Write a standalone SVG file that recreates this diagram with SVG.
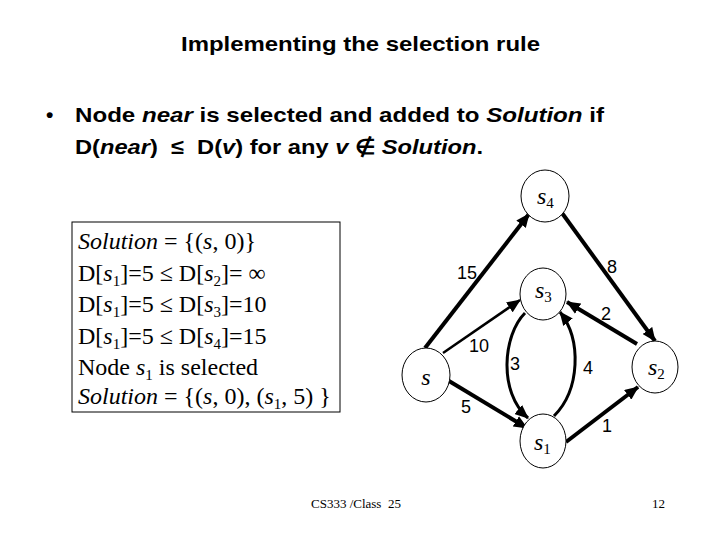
<svg xmlns="http://www.w3.org/2000/svg" width="720" height="540" viewBox="0 0 720 540">
<defs>
<style>
.h{font-family:"Liberation Sans",Arial,sans-serif;font-weight:bold;fill:#000}
.t{font-family:"Liberation Serif","Times New Roman",serif;fill:#000}
.lbl{font-family:"Liberation Sans",Arial,sans-serif;font-size:18px;fill:#000}
.nl{font-family:"Liberation Serif","Times New Roman",serif;font-style:italic;font-size:24px;fill:#000}
.node{fill:#fff;stroke:#000;stroke-width:1}
.e{fill:none;stroke:#000;stroke-width:4;marker-end:url(#ah)}
.e2{fill:none;stroke:#000;stroke-width:2.5;marker-end:url(#ah)}
.e3{fill:none;stroke:#000;stroke-width:3;marker-end:url(#ah)}
</style>
<marker id="ah" markerUnits="userSpaceOnUse" markerWidth="14" markerHeight="12" refX="13" refY="6" orient="auto">
<path d="M0,0 L14,6 L0,12 z" fill="#000"/>
</marker>
</defs>
<rect width="720" height="540" fill="#fff"/>
<text class="h" x="181" y="51" font-size="21" textLength="359" lengthAdjust="spacingAndGlyphs">Implementing the selection rule</text>
<text class="h" x="46" y="122" font-size="21">•</text>
<text class="h" x="75" y="122" font-size="21" textLength="529" lengthAdjust="spacingAndGlyphs">Node <tspan font-style="italic">near</tspan> is selected and added to <tspan font-style="italic">Solution</tspan> if</text>
<text class="h" x="75" y="154" font-size="21" xml:space="preserve" textLength="408" lengthAdjust="spacingAndGlyphs">D(<tspan font-style="italic">near</tspan>)  ≤  D(<tspan font-style="italic">v</tspan>) for any <tspan font-style="italic">v</tspan> ∉ <tspan font-style="italic">Solution</tspan>.</text>

<g id="solution-box">
<rect x="72" y="222" width="268" height="190" fill="#fff" stroke="#000" stroke-width="1"/>
<text class="t" font-size="24" x="78" y="249"><tspan font-style="italic">Solution</tspan> = {(<tspan font-style="italic">s</tspan>, 0)}</text>
<text class="t" font-size="24" x="78" y="281">D[<tspan font-style="italic">s</tspan><tspan font-size="15" dy="5">1</tspan><tspan dy="-5">]=5 ≤ D[</tspan><tspan font-style="italic">s</tspan><tspan font-size="15" dy="5">2</tspan><tspan dy="-5">]= ∞</tspan></text>
<text class="t" font-size="24" x="78" y="312">D[<tspan font-style="italic">s</tspan><tspan font-size="15" dy="5">1</tspan><tspan dy="-5">]=5 ≤ D[</tspan><tspan font-style="italic">s</tspan><tspan font-size="15" dy="5">3</tspan><tspan dy="-5">]=10</tspan></text>
<text class="t" font-size="24" x="78" y="344">D[<tspan font-style="italic">s</tspan><tspan font-size="15" dy="5">1</tspan><tspan dy="-5">]=5 ≤ D[</tspan><tspan font-style="italic">s</tspan><tspan font-size="15" dy="5">4</tspan><tspan dy="-5">]=15</tspan></text>
<text class="t" font-size="24" x="78" y="375">Node <tspan font-style="italic">s</tspan><tspan font-size="15" dy="5">1</tspan><tspan dy="-5"> is selected</tspan></text>
<text class="t" font-size="24" x="78" y="404"><tspan font-style="italic">Solution</tspan> = {(<tspan font-style="italic">s</tspan>, 0), (<tspan font-style="italic">s</tspan><tspan font-size="15" dy="5">1</tspan><tspan dy="-5">, 5) }</tspan></text>
</g>

<g id="connectors">
<line class="e" x1="425" y1="348" x2="529" y2="214"/>
<line class="e2" x1="443" y1="353" x2="520" y2="300"/>
<line class="e" x1="449" y1="381" x2="527" y2="428"/>
<line class="e" x1="562" y1="213" x2="655" y2="341"/>
<line class="e" x1="637" y1="344" x2="567" y2="302"/>
<line class="e" x1="566" y1="442" x2="638" y2="387"/>
<path class="e3" d="M525,313 C503,335 498,392 528,418"/>
<path class="e3" d="M554,416 C580,390 582,340 560,312"/>
<text class="lbl" x="467" y="279" text-anchor="middle">15</text>
<text class="lbl" x="612" y="273" text-anchor="middle">8</text>
<text class="lbl" x="606" y="320" text-anchor="middle">2</text>
<text class="lbl" x="479" y="352" text-anchor="middle">10</text>
<text class="lbl" x="515" y="370" text-anchor="middle">3</text>
<text class="lbl" x="588" y="374" text-anchor="middle">4</text>
<text class="lbl" x="466" y="413" text-anchor="middle">5</text>
<text class="lbl" x="607" y="432" text-anchor="middle">1</text>
</g>

<g id="node-s4">
<ellipse class="node" cx="545" cy="196" rx="24" ry="26"/>
<text class="nl" x="537" y="204">s<tspan font-style="normal" font-size="15" dy="4">4</tspan></text>
</g>
<g id="node-s3">
<ellipse class="node" cx="543" cy="294" rx="23" ry="26"/>
<text class="nl" x="535" y="298">s<tspan font-style="normal" font-size="15" dy="4">3</tspan></text>
</g>
<g id="node-s">
<ellipse class="node" cx="426" cy="375" rx="24" ry="27" stroke-width="3"/>
<text class="nl" x="426" y="385" text-anchor="middle">s</text>
</g>
<g id="node-s2">
<ellipse class="node" cx="655" cy="367" rx="23" ry="26"/>
<text class="nl" x="648" y="375">s<tspan font-style="normal" font-size="15" dy="4">2</tspan></text>
</g>
<g id="node-s1">
<ellipse class="node" cx="543" cy="441" rx="23" ry="27"/>
<text class="nl" x="534" y="450">s<tspan font-style="normal" font-size="15" dy="4">1</tspan></text>
</g>

<text class="t" font-size="13" x="311" y="508" xml:space="preserve">CS333 /Class  25</text>
<text class="t" font-size="13" x="652" y="508">12</text>
</svg>
